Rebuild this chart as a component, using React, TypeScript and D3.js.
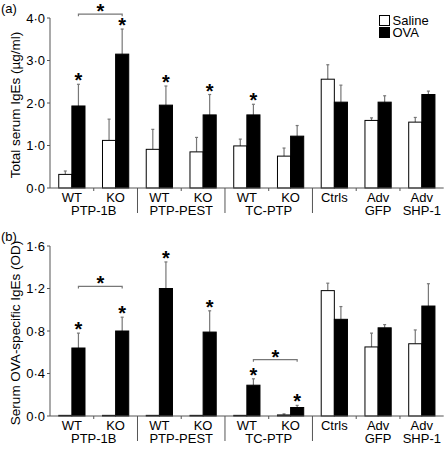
import React from "react";
import * as d3 from "d3";

const categories = ["WT PTP-1B", "KO PTP-1B", "WT PTP-PEST", "KO PTP-PEST", "WT TC-PTP", "KO TC-PTP", "Ctrls", "Adv GFP", "Adv SHP-1"];
const line1Labels = ["WT", "KO", "WT", "KO", "WT", "KO", "Ctrls", "Adv", "Adv"];
const groupLabels = [
  { label: "PTP-1B", from: 0, to: 1 },
  { label: "PTP-PEST", from: 2, to: 3 },
  { label: "TC-PTP", from: 4, to: 5 },
  { label: "GFP", from: 7, to: 7 },
  { label: "SHP-1", from: 8, to: 8 },
];
const separators = [2, 4, 6]; // category index before which a long separator is drawn
const seriesNames = ["Saline", "OVA"];

// Panel (a): Total serum IgEs (µg/ml)
const totalSaline = [0.32, 1.12, 0.91, 0.85, 0.99, 0.75, 2.56, 1.59, 1.55];
const totalSalineErr = [0.08, 0.5, 0.47, 0.34, 0.16, 0.19, 0.34, 0.06, 0.11];
const totalOva = [1.93, 3.15, 1.95, 1.72, 1.72, 1.22, 2.02, 2.02, 2.2];
const totalOvaErr = [0.51, 0.59, 0.45, 0.48, 0.25, 0.25, 0.4, 0.15, 0.08];
const totalStars = [0, 1, 2, 3, 4];
const totalBrackets = [{ from: 0, to: 1, level: 4.09 }];
const totalTicks = [0, 1, 2, 3, 4];

// Panel (b): Serum OVA-specific IgEs (OD)
const specSaline = [0.006, 0.006, 0.006, 0.006, 0.006, 0.01, 1.18, 0.65, 0.68];
const specSalineErr = [0, 0, 0, 0, 0, 0.01, 0.07, 0.13, 0.13];
const specOva = [0.64, 0.8, 1.2, 0.79, 0.29, 0.08, 0.91, 0.83, 1.035];
const specOvaErr = [0.14, 0.13, 0.25, 0.2, 0.06, 0.02, 0.12, 0.03, 0.21];
const specStars = [0, 1, 2, 3, 4, 5];
const specBrackets = [
  { from: 0, to: 1, level: 1.22 },
  { from: 4, to: 5, level: 0.53 },
];
const specTicks = [0, 0.4, 0.8, 1.2, 1.6];

const FONT = "'Liberation Sans', Arial, Helvetica, sans-serif";
const AXIS = "#555";
const ERR = "#777";

const x = d3.scaleBand<string>().domain(categories).range([50, 443.7]).paddingInner(0.4).paddingOuter(0.2);
const xs = d3.scaleBand<string>().domain(seriesNames).range([0, x.bandwidth()]);
const fmt = (v: number) => d3.format(".1f")(v).replace(".", "\u00b7");

type PanelProps = {
  label: string;
  title: string;
  yTop: number;
  yBottom: number;
  max: number;
  ticks: number[];
  saline: number[];
  salineErr: number[];
  ova: number[];
  ovaErr: number[];
  stars: number[];
  brackets: { from: number; to: number; level: number }[];
};

function Panel(p: PanelProps) {
  const y = d3.scaleLinear().domain([0, p.max]).range([p.yBottom, p.yTop]);
  const x0 = x.range()[0];
  const x1 = x.range()[1];
  const step = x.step();
  const series = [
    { name: "Saline", vals: p.saline, errs: p.salineErr, fill: "#fff" },
    { name: "OVA", vals: p.ova, errs: p.ovaErr, fill: "#000" },
  ];
  const cx = (i: number, s: string) => (x(categories[i]) ?? 0) + (xs(s) ?? 0) + xs.bandwidth() / 2;
  const base = y(0);
  return (
    <g fontFamily={FONT}>
      <text x={1} y={p.yTop - 5} fontSize={13}>{p.label}</text>
      <text
        transform={`translate(${20},${(p.yTop + base) / 2 + 2}) rotate(-90)`}
        textAnchor="middle"
        fontSize={13.5}
      >
        {p.title}
      </text>
      {/* y axis */}
      <line x1={x0} x2={x0} y1={y(p.max)} y2={base} stroke={AXIS} strokeWidth={1} />
      {p.ticks.map((t) => (
        <g key={t}>
          <line x1={x0 - 3} x2={x0} y1={y(t)} y2={y(t)} stroke={AXIS} />
          <text x={x0 - 5} y={y(t)} dy="0.35em" textAnchor="end" fontSize={13}>{fmt(t)}</text>
        </g>
      ))}
      {/* bars */}
      {series.map((s) =>
        s.vals.map((v, i) => {
          const bx = (x(categories[i]) ?? 0) + (xs(s.name) ?? 0);
          const top = y(v);
          const et = y(v + s.errs[i]);
          const c = bx + xs.bandwidth() / 2;
          return (
            <g key={s.name + i}>
              {s.errs[i] > 0 && (
                <g stroke={ERR} strokeWidth={1.2}>
                  <line x1={c} x2={c} y1={top} y2={et} />
                  <line x1={c - 1.5} x2={c + 1.5} y1={et} y2={et} />
                </g>
              )}
              <rect
                x={bx}
                y={top}
                width={xs.bandwidth()}
                height={Math.max(0.5, base - top)}
                fill={s.fill}
                stroke="#000"
                strokeWidth={1}
              />
            </g>
          );
        })
      )}
      {/* x axis */}
      <line x1={x0} x2={x1} y1={base} y2={base} stroke={AXIS} strokeWidth={1} />
      {categories.slice(1).map((c, k) => {
        const i = k + 1;
        const sx = x0 + step * i;
        const long = separators.includes(i);
        return <line key={c} x1={sx} x2={sx} y1={base} y2={base + (long ? 25 : 3)} stroke={AXIS} strokeWidth={1} />;
      })}
      {line1Labels.map((l, i) => (
        <text key={i} x={(x(categories[i]) ?? 0) + x.bandwidth() / 2} y={base + 14} textAnchor="middle" fontSize={13}>{l}</text>
      ))}
      {groupLabels.map((g) => (
        <text
          key={g.label}
          x={((x(categories[g.from]) ?? 0) + (x(categories[g.to]) ?? 0) + x.bandwidth()) / 2}
          y={base + 27}
          textAnchor="middle"
          fontSize={13}
        >
          {g.label}
        </text>
      ))}
      {/* stars */}
      {p.stars.map((i) => (
        <text key={i} x={cx(i, "OVA")} y={y(p.ova[i] + p.ovaErr[i]) + 3} textAnchor="middle" fontSize={20} fontWeight="bold">*</text>
      ))}
      {p.brackets.map((b, k) => {
        const bxa = cx(b.from, "OVA");
        const bxb = cx(b.to, "OVA");
        const by = y(b.level);
        return (
          <g key={k}>
            <path d={`M${bxa},${by + 2}V${by}H${bxb}V${by + 2}`} fill="none" stroke={ERR} strokeWidth={1.2} />
            <text x={(bxa + bxb) / 2} y={by + 4} textAnchor="middle" fontSize={20} fontWeight="bold">*</text>
          </g>
        );
      })}
    </g>
  );
}

export default function App() {
  return (
    <svg width={444} height={456} style={{ position: "absolute", left: 0, top: 0, background: "#fff" }}>
      <rect width={444} height={456} fill="#fff" />
      <Panel
        label="(a)"
        title="Total serum IgEs (µg/ml)"
        yTop={18}
        yBottom={188}
        max={4}
        ticks={totalTicks}
        saline={totalSaline}
        salineErr={totalSalineErr}
        ova={totalOva}
        ovaErr={totalOvaErr}
        stars={totalStars}
        brackets={totalBrackets}
      />
      <Panel
        label="(b)"
        title="Serum OVA-specific IgEs (OD)"
        yTop={246}
        yBottom={416}
        max={1.6}
        ticks={specTicks}
        saline={specSaline}
        salineErr={specSalineErr}
        ova={specOva}
        ovaErr={specOvaErr}
        stars={specStars}
        brackets={specBrackets}
      />
      {/* legend */}
      <g fontFamily={FONT} fontSize={13}>
        {seriesNames.map((s, i) => (
          <g key={s}>
            <rect x={379.5} y={15.5 + i * 12} width={10} height={10} fill={i === 0 ? "#fff" : "#000"} stroke="#000" strokeWidth={1} />
            <text x={392.5} y={25 + i * 12}>{s}</text>
          </g>
        ))}
      </g>
    </svg>
  );
}
